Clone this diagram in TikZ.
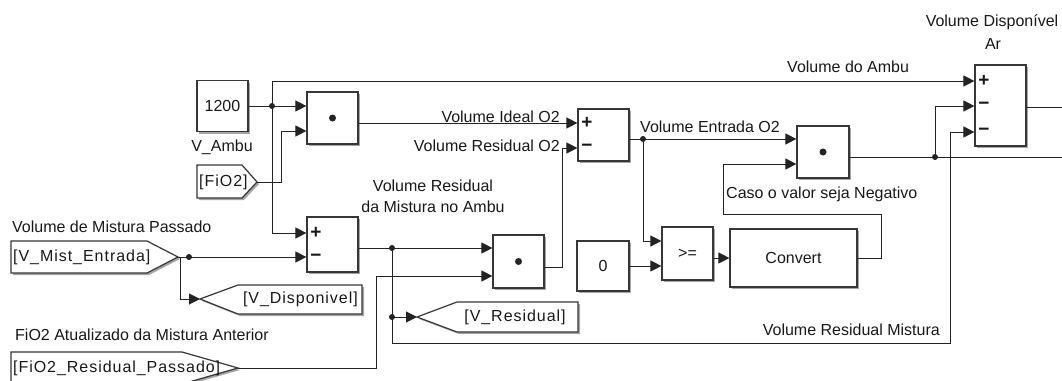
\documentclass[tikz,border=0pt]{standalone}
\usepackage{fontspec}
\setmainfont{Liberation Sans}
\usepackage{tikz}
\usetikzlibrary{arrows.meta,shadows}
\definecolor{wirecol}{RGB}{35,35,35}
\definecolor{blkcol}{RGB}{55,55,55}
\definecolor{txtcol}{RGB}{25,25,25}

\begin{document}
\begin{tikzpicture}[x=1pt,y=-1pt,font=\fontsize{16}{19}\selectfont,
  wire/.style={draw=wirecol,line width=1pt},
  sig/.style={wire,-{Triangle[length=11pt,width=11pt]}},
  blk/.style={draw=blkcol,line width=1.2pt,fill=white,inner sep=0pt,text=txtcol,
    drop shadow={shadow xshift=2pt,shadow yshift=-2pt,fill=black!35,opacity=1}},
  tag/.style={draw=blkcol,line width=1.2pt,fill=white,
    drop shadow={shadow xshift=2pt,shadow yshift=-2pt,fill=black!35,opacity=1}},
  lbl/.style={inner sep=0pt,text=txtcol},
  sgnlbl/.style={lbl,font=\fontsize{19}{21}\selectfont\bfseries},
  tagtxt/.style={lbl,font=\fontsize{16}{19}\selectfont\addfontfeature{LetterSpace=6}}]
\path[use as bounding box,fill=white] (0,0) rectangle (1062,380);
% blocks
\node[blk,minimum width=51pt,minimum height=51pt] (c1200) at (222.5,106) {1200};
\node[blk,minimum width=51pt,minimum height=52pt] (prod1) at (332.5,118) {};
\node[blk,minimum width=51pt,minimum height=55pt] (sum2) at (332.5,244.5) {};
\node[blk,minimum width=51pt,minimum height=53pt] (prod3) at (518.5,261.5) {};
\node[blk,minimum width=51pt,minimum height=52pt] (sum3) at (603.5,135) {};
\node[blk,minimum width=52pt,minimum height=50pt] (c0) at (603,266) {0};
\node[blk,minimum width=51pt,minimum height=53pt] (relop) at (687.5,253.5) {>=};
\node[blk,minimum width=127pt,minimum height=58pt] (conv) at (793.5,258) {Convert};
\node[blk,minimum width=52pt,minimum height=52pt] (prod4) at (823,152) {};
\node[blk,minimum width=51pt,minimum height=81pt] (sum4) at (1000.5,105.5) {};
\foreach \b in {prod1,prod3,prod4} \fill[wirecol] (\b) circle (3.5pt);
\foreach \sx/\sy/\sg [count=\k] in {316/233/+,316/258/−,587/123/+,587/148/−,984/81/+,984/106/−,984/132/−}
  \node[sgnlbl] (sgn\k) at (\sx,\sy) {\sg};
% goto / from tags
\draw[tag] (197,165) -- (242,165) -- (257,182) -- (242,198) -- (197,198) -- cycle;
\node[tagtxt,anchor=west] (tfio2) at (199,182) {[FiO2]};
\coordinate (tfio2pt) at (257,182);
\draw[tag] (11,241) -- (147,241) -- (178,257) -- (147,273) -- (11,273) -- cycle;
\node[tagtxt,anchor=west] (tmist) at (13,257) {[V\_Mist\_Entrada]};
\coordinate (tmistpt) at (178,257);
\draw[tag] (200,299) -- (238,285) -- (362,285) -- (362,314) -- (238,314) -- cycle;
\node[tagtxt,anchor=east] (tdisp) at (358,299) {[V\_Disponivel]};
\coordinate (tdisppt) at (200,299);
\draw[tag] (417,317) -- (457,302) -- (578,302) -- (578,332) -- (457,332) -- cycle;
\node[tagtxt] (tresid) at (515,317) {[V\_Residual]};
\coordinate (tresidpt) at (417,317);
\draw[tag] (11,352) -- (182,352) -- (238,368) -- (182,384) -- (11,384) -- cycle;
\node[tagtxt,anchor=west] (tfres) at (13,368) {[FiO2\_Residual\_Passado]};
\coordinate (tfrespt) at (238,368);
% junctions
\coordinate (j1) at (272,106);
\coordinate (jm) at (189,257);
\coordinate (jb) at (180,257);
\coordinate (j3) at (392,248);
\coordinate (j4) at (392,317);
\coordinate (j5) at (643,139);
\coordinate (j6) at (935,157);
\foreach \j in {j1,jm,j3,j4,j5,j6} \fill[wirecol] (\j) circle (3pt);
% signals
\draw[sig] (c1200.east) -- (prod1.west |- j1);
\draw[sig] (j1) |- (sum4.west |- 0,81);
\draw[sig] (j1) |- (sum2.west |- 0,233);
\draw[sig] (tfio2pt) -- ++(24,0) |- (prod1.west |- 0,131);
\draw[sig] (prod1.east |- 0,123) -- (sum3.west |- 0,123);
\draw[sig] (tmistpt) -- (sum2.west |- tmistpt);
\draw[sig] (jb) |- (tdisppt);
\draw[sig] (sum2.east |- j3) -- (prod3.west |- j3);
\draw[wire] (j3) -- (j4);
\draw[sig] (j4) -- (tresidpt);
\draw[sig] (j4) |- (950,343) |- (sum4.west |- 0,132);
\draw[sig] (tfrespt) -- ++(138,0) |- (prod3.west |- 0,276);
\draw[sig] (prod3.east |- 0,267) -- ++(18,0) |- (sum3.west |- 0,148);
\draw[sig] (sum3.east |- j5) -- (prod4.west |- j5);
\draw[sig] (j5) |- (relop.west |- 0,241);
\draw[sig] (c0.east) -- (relop.west |- c0.east);
\draw[sig] (relop.east |- conv.west) -- (conv.west);
\draw[sig] (conv.east) -- ++(24,0) |- (723,214) |- (prod4.west |- 0,164);
\draw[wire] (prod4.east |- j6) -- (1062,157);
\draw[sig] (j6) |- (sum4.west |- 0,106);
\draw[wire] (sum4.east |- 0,107) -- (1062,107);
% signal labels
\node[lbl,anchor=base] (lvambu) at (222,151) {V\_Ambu};
\node[lbl,anchor=base west] (lmist) at (12,232) {Volume de Mistura Passado};
\node[lbl,anchor=base west] (lfio2ant) at (15,340) {FiO2 Atualizado da Mistura Anterior};
\node[lbl,anchor=base east] (lideal) at (560,122) {Volume Ideal O2};
\node[lbl,anchor=base east] (lreso2) at (560,151) {Volume Residual O2};
\node[lbl,anchor=base] (lresamb1) at (433,191) {Volume Residual};
\node[lbl,anchor=base] (lresamb2) at (433,212) {da Mistura no Ambu};
\node[lbl,anchor=base west] (lentrada) at (640,132) {Volume Entrada O2};
\node[lbl,anchor=base west] (lambu) at (787,72) {Volume do Ambu};
\node[lbl,anchor=base] (ldisp1) at (992,27) {Volume Disponível};
\node[lbl,anchor=base] (ldisp2) at (993,49) {Ar};
\node[lbl,anchor=base west] (lcaso) at (726,198) {Caso o valor seja Negativo};
\node[lbl,anchor=base east] (lresmist) at (940,335) {Volume Residual Mistura};
\end{tikzpicture}
\end{document}
